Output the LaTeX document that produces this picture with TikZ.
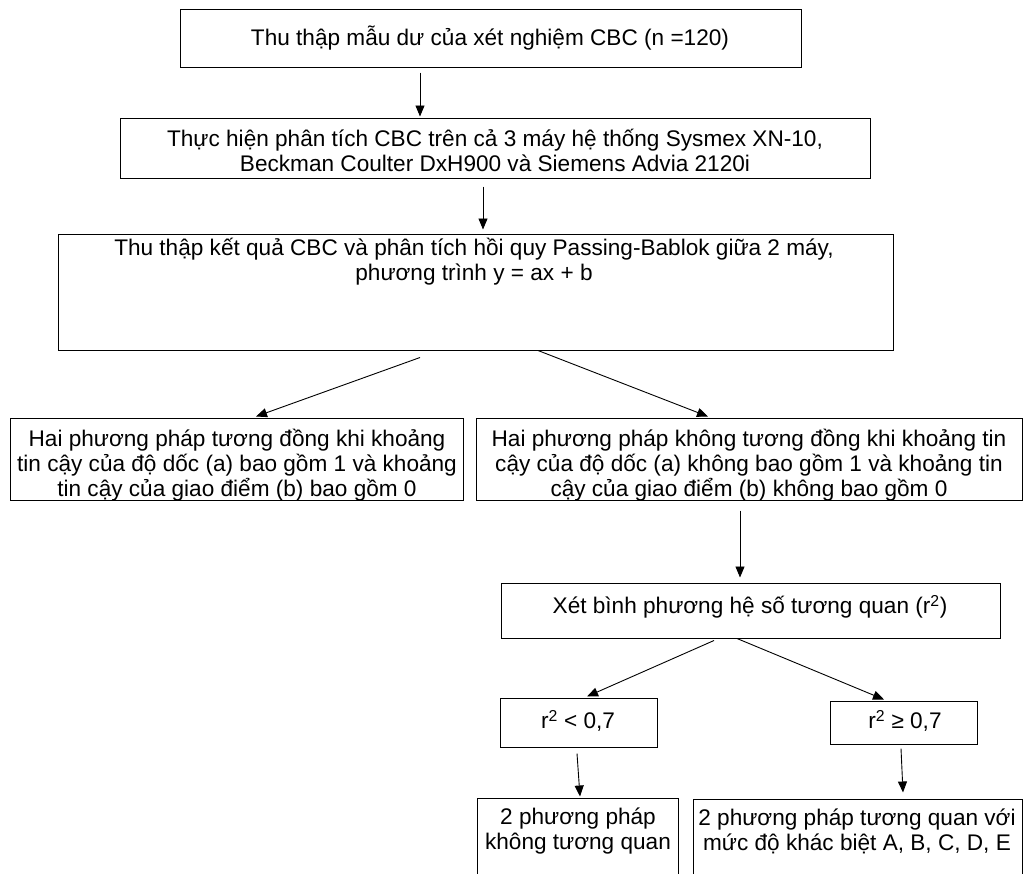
\documentclass[tikz,border=0pt]{standalone}
\usepackage{fontspec}
\setmainfont{Liberation Sans}
\usetikzlibrary{arrows.meta, fit, positioning}

\begin{document}
\begin{tikzpicture}[x=1pt, y=-1pt,
    box/.style={draw, line width=1pt, inner sep=0pt},
    txt/.style={align=center, inner sep=0pt, font=\fontsize{22.6}{25}\selectfont},
    flow/.style={-{Triangle[length=11pt, width=9pt]}, line width=0.9pt}]
  \useasboundingbox (0,0) rectangle (1028,873);
  % Boxes (pixel positions, top left origin)
  \node[box, fit={(180,9) (801,67)}]     (collect) {};
  \node[box, fit={(120,118) (870,178)}]  (analyse) {};
  \node[box, fit={(58,234) (893,350)}]   (regress) {};
  \node[box, fit={(10,418) (463,500)}]   (agree) {};
  \node[box, fit={(476,418) (1022,500)}] (disagree) {};
  \node[box, fit={(501,583) (1000,638)}] (rsq) {};
  \node[box, fit={(500,698) (657,747)}]  (low) {};
  \node[box, fit={(830,701) (977,744)}]  (high) {};
  \node[box, fit={(477,798) (678,885)}]  (nocorr) {};
  \node[box, fit={(693,799) (1022,885)}] (corr) {};
  % Texts
  \node[txt] (tcollect) at (490,38) {Thu thập mẫu dư của xét nghiệm CBC (n =120)};
  \node[txt] (tanalyse) at (495,150) {Thực hiện phân tích CBC trên cả 3 máy hệ thống Sysmex XN-10,\\
    Beckman Coulter DxH900 và Siemens Advia 2120i};
  \node[txt] (tregress) at (474,262) {Thu thập kết quả CBC và phân tích hồi quy Passing-Bablok giữa 2 máy,\\
    phương trình y = ax + b};
  \node[txt] (tagree) at (237,465) {Hai phương pháp tương đồng khi khoảng\\
    tin cậy của độ dốc (a) bao gồm 1 và khoảng\\ tin cậy của giao điểm (b) bao gồm 0};
  \node[txt] (tdisagree) at (749,465) {Hai phương pháp không tương đồng khi khoảng tin\\
    cậy của độ dốc (a) không bao gồm 1 và khoảng tin\\ cậy của giao điểm (b) không bao gồm 0};
  \node[txt] (trsq) at (750,607) {Xét bình phương hệ số tương quan (r\textsuperscript{2})};
  \node[txt] (tlow) at (578,721) {r\textsuperscript{2} < 0,7};
  \node[txt] (thigh) at (905,721) {r\textsuperscript{2} ≥ 0,7};
  \node[txt] (tnocorr) at (578,831) {2 phương pháp\\ không tương quan};
  \node[txt] (tcorr) at (857,831) {2 phương pháp tương quan với\\ mức độ khác biệt A, B, C, D, E};
  % Arrows
  \draw[flow] ([xshift=-70.5pt, yshift=-5pt]collect.south) -- ([xshift=-75pt, yshift=1pt]analyse.north);
  \draw[flow] ([xshift=-12pt, yshift=-8pt]analyse.south) -- ([xshift=7.5pt, yshift=4pt]regress.north);
  \draw[flow] ([xshift=-55.5pt, yshift=-7pt]regress.south) -- ([xshift=19.5pt, yshift=1pt]agree.north);
  \draw[flow] ([xshift=62.5pt]regress.south) -- ([xshift=-41pt, yshift=1pt]disagree.north);
  \draw[flow] ([xshift=-9pt, yshift=-10pt]disagree.south) -- ([xshift=-10.5pt, yshift=5pt]rsq.north);
  \draw[flow] ([xshift=-36.5pt, yshift=-2pt]rsq.south) -- ([xshift=8.5pt, yshift=1pt]low.north);
  \draw[flow] ([xshift=-13.5pt]rsq.south) -- ([xshift=-19.5pt, yshift=1pt]high.north);
  \draw[flow] ([xshift=-1.5pt, yshift=-6pt]low.south) -- ([xshift=2.5pt, yshift=1pt]nocorr.north);
  \draw[flow] ([xshift=-2.5pt, yshift=-4pt]high.south) -- ([xshift=45.5pt, yshift=6pt]corr.north);
\end{tikzpicture}
\end{document}
